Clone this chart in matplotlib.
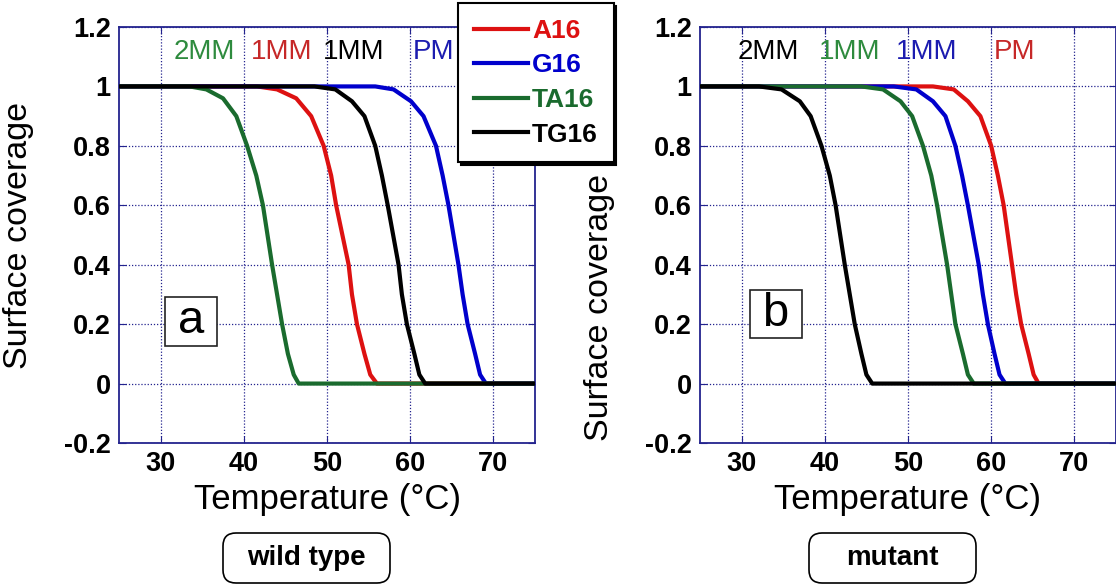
import matplotlib.pyplot as plt
from matplotlib.patches import Rectangle, FancyBboxPatch

# melting curves: temperature (C) and surface coverage
series_names = ['A16', 'G16', 'TA16', 'TG16']
series_colors = ['#dd1111', '#0000cc', '#1a6b2e', '#000000']

wt_temp = {
    'A16': [25, 41.6, 44.0, 46.3, 48.1, 49.6, 50.5, 51.1, 52.6, 53.0, 53.6, 54.5, 55.2, 56.0, 75],
    'G16': [25, 55.8, 58.0, 60.1, 61.6, 63.1, 63.9, 64.6, 65.8, 66.3, 66.9, 67.8, 68.4, 69.1, 75],
    'TA16': [25, 33.5, 35.5, 37.5, 39.1, 40.4, 41.5, 42.3, 43.4, 44.0, 44.6, 45.3, 46.0, 46.6, 75],
    'TG16': [25, 48.5, 51.0, 53.0, 54.5, 55.8, 56.6, 57.3, 58.6, 59.0, 59.6, 60.5, 61.1, 61.8, 75],
}
wt_cov = {
    'A16': [1, 1, 0.99, 0.96, 0.9, 0.8, 0.7, 0.6, 0.4, 0.3, 0.2, 0.1, 0.03, 0, 0],
    'G16': [1, 1, 0.99, 0.95, 0.9, 0.8, 0.7, 0.6, 0.4, 0.3, 0.2, 0.1, 0.03, 0, 0],
    'TA16': [1, 1, 0.99, 0.96, 0.9, 0.8, 0.7, 0.6, 0.4, 0.3, 0.2, 0.1, 0.03, 0, 0],
    'TG16': [1, 1, 0.99, 0.95, 0.9, 0.8, 0.7, 0.6, 0.4, 0.3, 0.2, 0.1, 0.03, 0, 0],
}

mut_temp = {
    'A16': [25, 53.0, 55.5, 57.2, 58.7, 60.0, 60.8, 61.5, 62.5, 63.0, 63.6, 64.5, 65.1, 65.7, 75],
    'G16': [25, 48.3, 51.0, 53.0, 54.5, 55.7, 56.5, 57.2, 58.5, 59.0, 59.6, 60.4, 61.0, 61.7, 75],
    'TA16': [25, 44.4, 47.0, 49.1, 50.5, 51.8, 52.8, 53.5, 54.7, 55.2, 55.7, 56.6, 57.2, 57.9, 75],
    'TG16': [25, 32.1, 34.8, 37.0, 38.3, 39.6, 40.6, 41.3, 42.4, 43.0, 43.6, 44.4, 45.0, 45.7, 75],
}
mut_cov = {
    'A16': [1, 1, 0.99, 0.95, 0.9, 0.8, 0.7, 0.6, 0.4, 0.3, 0.2, 0.1, 0.03, 0, 0],
    'G16': [1, 1, 0.99, 0.95, 0.9, 0.8, 0.7, 0.6, 0.4, 0.3, 0.2, 0.1, 0.03, 0, 0],
    'TA16': [1, 1, 0.99, 0.95, 0.9, 0.8, 0.7, 0.6, 0.4, 0.3, 0.2, 0.1, 0.03, 0, 0],
    'TG16': [1, 1, 0.99, 0.95, 0.9, 0.8, 0.7, 0.6, 0.4, 0.3, 0.2, 0.1, 0.03, 0, 0],
}

# mismatch annotations above the curves
wt_notes = ['2MM', '1MM', '1MM', 'PM']
wt_note_x = [35.3, 44.5, 53.2, 62.8]
wt_note_colors = ['#2e8b3e', '#c62828', '#000000', '#1c1cb0']
mut_notes = ['2MM', '1MM', '1MM', 'PM']
mut_note_x = [33.2, 43.0, 52.2, 62.8]
mut_note_colors = ['#000000', '#2e8b3e', '#1c1cb0', '#c62828']

x_ticks = [30, 40, 50, 60, 70]
y_ticks = [-0.2, 0, 0.2, 0.4, 0.6, 0.8, 1, 1.2]
y_tick_labels = ['-0.2', '0', '0.2', '0.4', '0.6', '0.8', '1', '1.2']

AXCOL = '#23238e'
FONT = 'Liberation Sans'


def style_axes(ax, ylab_y):
    ax.set_xlim(25, 75)
    ax.set_ylim(-0.2, 1.2)
    ax.set_xticks(x_ticks)
    ax.set_yticks(y_ticks)
    ax.set_yticklabels(y_tick_labels)
    for sp in ax.spines.values():
        sp.set_color(AXCOL)
        sp.set_linewidth(1.3)
    ax.grid(True, color=AXCOL, linestyle=(0, (1, 1.5)), linewidth=0.9)
    ax.tick_params(direction='in', length=5, color=AXCOL, top=True, right=True,
                   labelsize=19.5, pad=6)
    for lab in ax.get_xticklabels() + ax.get_yticklabels():
        lab.set_fontweight('bold')
        lab.set_family(FONT)
    ax.set_xlabel('Temperature (°C)', fontsize=25, family=FONT)
    ax.set_ylabel('Surface coverage', fontsize=24.5, family=FONT)
    ax.yaxis.set_label_coords(-0.205, ylab_y)
    ax.xaxis.set_label_coords(0.5, -0.095)


def draw_panel(ax, temps, covs, notes, note_x, note_colors, ylab_y):
    lines = []
    for name, col in zip(series_names, series_colors):
        ln, = ax.plot(temps[name], covs[name], color=col, lw=3, label=name,
                      solid_joinstyle='round', zorder=3)
        lines.append(ln)
    for txt, x, c in zip(notes, note_x, note_colors):
        ax.text(x, 1.116, txt, color=c, fontsize=20, family=FONT,
                ha='center', va='center')
    style_axes(ax, ylab_y)
    return lines


def main():
    fig = plt.figure(figsize=(11.16, 5.88), dpi=100)
    ax1 = fig.add_axes([119 / 1116, 145 / 588, 416 / 1116, 416 / 588])
    ax2 = fig.add_axes([700 / 1116, 145 / 588, 416 / 1116, 416 / 588])

    lines = draw_panel(ax1, wt_temp, wt_cov, wt_notes, wt_note_x, wt_note_colors, 0.5)
    draw_panel(ax2, mut_temp, mut_cov, mut_notes, mut_note_x, mut_note_colors, 0.327)

    # panel letters in square boxes
    for ax, letter, x0, y0, y1 in [(ax1, 'a', 30.5, 0.126, 0.292), (ax2, 'b', 30.96, 0.152, 0.315)]:
        ax.add_patch(Rectangle((x0, y0), 6.25, y1 - y0, facecolor='white',
                               edgecolor='#222222', lw=1.2, zorder=4))
        ax.text(x0 + 3.125, (y0 + y1) / 2, letter, fontsize=34, family=FONT,
                ha='center', va='center', zorder=5)

    leg = fig.legend(handles=lines, loc='upper left',
                     bbox_to_anchor=(458 / 1116, 1 - 3 / 588),
                     bbox_transform=fig.transFigure,
                     prop={'family': FONT, 'weight': 'bold', 'size': 19},
                     handlelength=2.05, handletextpad=0.15, labelspacing=0.4,
                     borderpad=0.6, borderaxespad=0, fancybox=False,
                     shadow={'color': 'black', 'alpha': 1}, framealpha=1)
    leg.get_frame().set_edgecolor('black')
    leg.get_frame().set_linewidth(1.5)
    leg.set_zorder(10)
    for txt, col in zip(leg.get_texts(), series_colors):
        txt.set_color(col)

    # rounded boxes under each panel
    for label, x0 in [('wild type', 2.23), ('mutant', 8.09)]:
        fig.patches.append(FancyBboxPatch((x0, 0.05), 1.67, 0.5,
                                          boxstyle='round,pad=0,rounding_size=0.13',
                                          transform=fig.dpi_scale_trans,
                                          facecolor='white', edgecolor='black', lw=1.2))
        fig.text(x0 + 0.835, 0.30, label, transform=fig.dpi_scale_trans,
                 fontsize=20, fontweight='bold', family=FONT, ha='center', va='center')

    plt.savefig('out.png', dpi=100)
    plt.close()


if __name__ == '__main__':
    main()
